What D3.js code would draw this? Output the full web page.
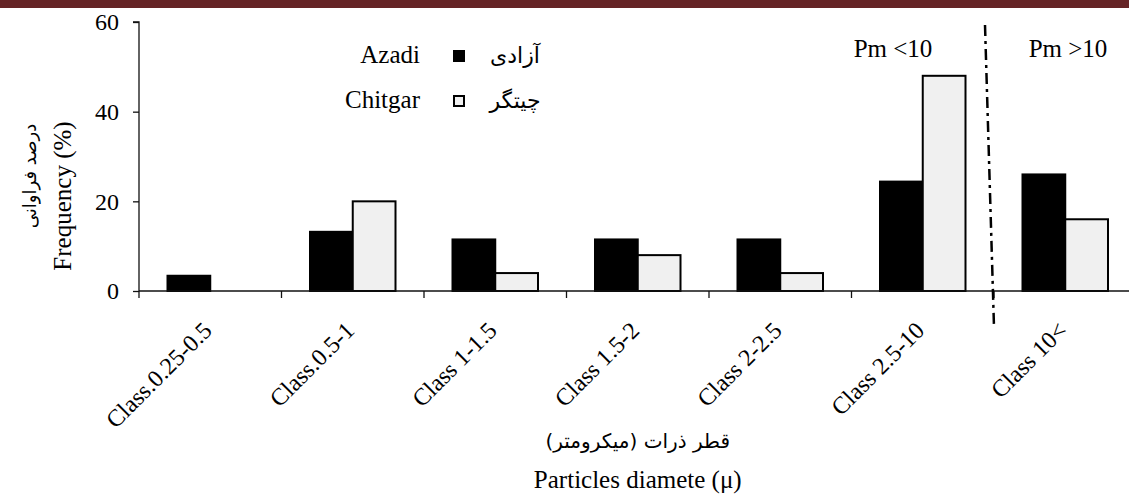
<!DOCTYPE html>
<html><head><meta charset="utf-8">
<script src="https://cdn.jsdelivr.net/npm/d3@7/dist/d3.min.js"></script>
<style>
html,body{margin:0;padding:0;background:#fff;}
svg{display:block;}
text{font-family:"Liberation Serif","Times New Roman",serif;fill:#000;}
.fa{font-family:"DejaVu Sans","Noto Sans",sans-serif;}
</style></head>
<body>
<svg id="chart" width="1129" height="495"></svg>
<script>
const categories = ["Class.0.25-0.5","Class.0.5-1","Class 1-1.5","Class 1.5-2","Class 2-2.5","Class 2.5-10","Class 10<"];
const azadi   = [3.4, 13.2, 11.5, 11.5, 11.5, 24.4, 26.0];
const chitgar = [0, 20, 4, 8, 4, 48, 16];
const yTicks  = [0, 20, 40, 60];
const seriesNames = ["Azadi","Chitgar"];
const seriesNamesFa = ["آزادی","چیتگر"];
const colors = ["#000000","#f0f0f0"];

(function(){
const svg = d3.select("#chart");
const W = 1129, H = 495;
const pLeft = 139, pRight = 1136.5, pTop = 22, pBottom = 291;

// top band
svg.append("rect").attr("x",0).attr("y",0).attr("width",W).attr("height",8).attr("fill","#652426");

const x = d3.scaleBand().domain(categories).range([pLeft,pRight]).paddingInner(0).paddingOuter(0);
const y = d3.scaleLinear().domain([0,60]).range([pBottom,pTop]);
const bw = x.bandwidth()*0.3;
const off = x.bandwidth()*0.2;

const data = [azadi, chitgar];
data.forEach((vals,si)=>{
  svg.append("g").selectAll("rect").data(vals.map((v,i)=>({c:categories[i],v})).filter(d=>d.v>0))
    .join("rect")
    .attr("x",d=>x(d.c)+off+si*bw)
    .attr("y",d=>y(d.v))
    .attr("width",bw)
    .attr("height",d=>y(0)-y(d.v))
    .attr("fill",colors[si])
    .attr("stroke","#000").attr("stroke-width",2);
});

// y axis
const ya = svg.append("g").attr("transform",`translate(${pLeft},0)`)
  .call(d3.axisLeft(y).tickValues(yTicks).tickSize(6).tickPadding(14));
ya.selectAll("path,line").attr("stroke","#111").attr("stroke-width",1.3);
ya.select(".domain").attr("d",`M-6,${pTop}H0V${pBottom}`);
ya.selectAll("text").attr("font-size",24).attr("font-family","Liberation Serif").attr("fill","#000");

// x axis
const xa = svg.append("g").attr("transform",`translate(0,${pBottom})`);
xa.append("line").attr("x1",pLeft).attr("x2",W).attr("y1",0).attr("y2",0).attr("stroke","#111").attr("stroke-width",1.3);
xa.selectAll("line.t").data(categories).join("line").attr("class","t")
  .attr("x1",d=>x(d)).attr("x2",d=>x(d)).attr("y1",0).attr("y2",7)
  .attr("stroke","#111").attr("stroke-width",1.3);
xa.selectAll("text.lab").data(categories).join("text").attr("class","lab")
  .attr("text-anchor","end").attr("font-size",24)
  .attr("transform",d=>`translate(${x(d)+x.bandwidth()/2+3},41) rotate(-45)`)
  .text(d=>d);

// separator dash-dot
const sepX = x(categories[6]);
svg.append("line").attr("x1",sepX-9).attr("y1",pTop+3).attr("x2",sepX).attr("y2",pBottom+36)
  .attr("stroke","#000").attr("stroke-width",2.5).attr("stroke-dasharray","11,5,3,5");

// Pm labels
svg.append("text").attr("x",893).attr("y",57).attr("text-anchor","middle").attr("font-size",25).text("Pm <10");
svg.append("text").attr("x",1068).attr("y",57).attr("text-anchor","middle").attr("font-size",25).text("Pm >10");

// legend
const legY = [63,108];
seriesNames.forEach((n,i)=>{
  svg.append("text").attr("x",420).attr("y",legY[i]).attr("text-anchor","end").attr("font-size",25).text(n);
  svg.append("rect").attr("x",454).attr("y",legY[i]-12).attr("width",10).attr("height",10)
    .attr("fill",colors[i]).attr("stroke","#000").attr("stroke-width",2);
  svg.append("text").attr("class","fa").attr("x",515).attr("y",legY[i]).attr("text-anchor","middle")
    .attr("font-size",22).attr("direction","rtl").text(seriesNamesFa[i]);
});

// axis titles
const cx = (pLeft+pRight)/2;
svg.append("text").attr("class","fa").attr("x",cx).attr("y",448).attr("text-anchor","middle").attr("font-size",20).text("قطر ذرات (میکرومتر)");
svg.append("text").attr("x",cx).attr("y",488).attr("text-anchor","middle").attr("font-size",25).text("Particles diamete (\u03bc)");
svg.append("text").attr("transform",`translate(71,196) rotate(-90)`).attr("text-anchor","middle").attr("font-size",25).text("Frequency (%)");
svg.append("text").attr("class","fa").attr("transform",`translate(36,176) rotate(-90)`).attr("text-anchor","middle").attr("font-size",18).text("درصد فراوانی");
})();
</script>
</body></html>
